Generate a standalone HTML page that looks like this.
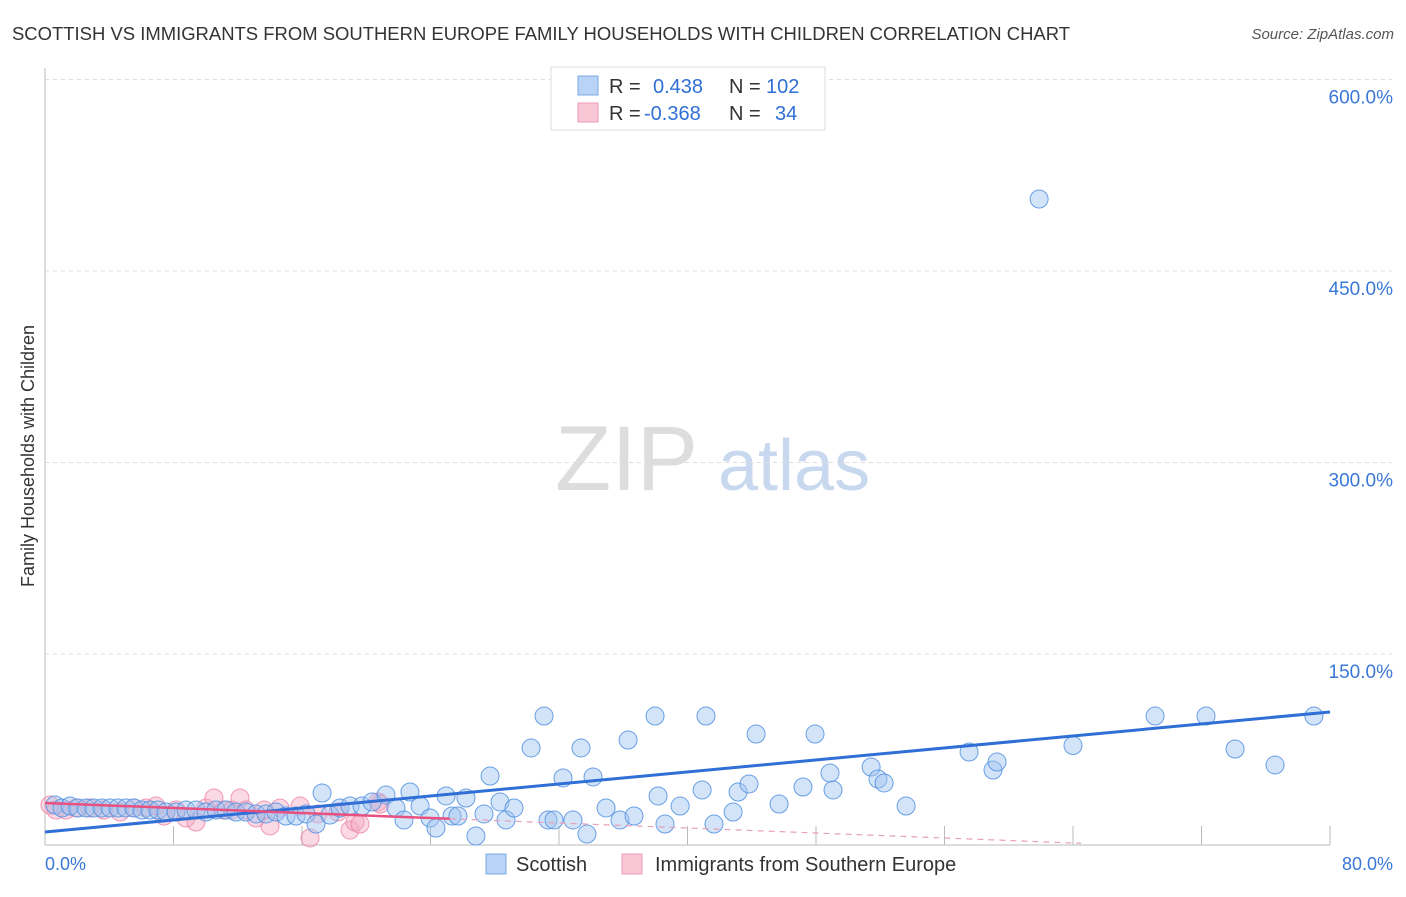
<!DOCTYPE html>
<html><head><meta charset="utf-8"><style>
body{margin:0;background:#fff;font-family:"Liberation Sans",sans-serif;}
svg text{font-family:"Liberation Sans",sans-serif;}
</style></head><body>
<svg id="chart" width="1406" height="892">
<text x="12" y="40" font-size="18" fill="#333" textLength="1058" lengthAdjust="spacingAndGlyphs">SCOTTISH VS IMMIGRANTS FROM SOUTHERN EUROPE FAMILY HOUSEHOLDS WITH CHILDREN CORRELATION CHART</text>
<text x="1394" y="39" font-size="15" fill="#555" text-anchor="end" font-style="italic">Source: ZipAtlas.com</text>
<text transform="translate(34,456) rotate(-90)" font-size="18" fill="#333" text-anchor="middle">Family Households with Children</text>
<g><text x="555" y="490" font-size="92" fill="#ddd" font-family="Liberation Serif,serif">ZIP</text><text x="718" y="490" font-size="72" fill="#c8d8ee">atlas</text></g>
<g id="grid"></g><g id="marks"></g>
<g>
<rect x="551" y="67" width="274" height="63" fill="#fff" stroke="#ddd"/>
<rect x="578" y="76" width="20" height="19" fill="#b8d3f5" stroke="#7aaae6"/>
<rect x="578" y="103" width="20" height="19" fill="#f9c6d5" stroke="#f09ab5"/>
<text x="609" y="93" font-size="20" fill="#333">R = </text><text x="653" y="93" font-size="20" fill="#2f6fd6">0.438</text>
<text x="729" y="93" font-size="20" fill="#333">N = </text><text x="766" y="93" font-size="20" fill="#2f6fd6">102</text>
<text x="609" y="120" font-size="20" fill="#333">R = </text><text x="644" y="120" font-size="20" fill="#2f6fd6">-0.368</text>
<text x="729" y="120" font-size="20" fill="#333">N = </text><text x="775" y="120" font-size="20" fill="#2f6fd6">34</text>
</g>
<g>
<rect x="486" y="854" width="20" height="20" fill="#b8d3f5" stroke="#7aaae6"/>
<text x="516" y="871" font-size="20" fill="#333">Scottish</text>
<rect x="622" y="854" width="20" height="20" fill="#f9c6d5" stroke="#f09ab5"/>
<text x="655" y="871" font-size="20" fill="#333">Immigrants from Southern Europe</text>
</g>
</svg>
<script>
const yTicks=[150,300,450,600];
const xTickLabels=["0.0%","80.0%"];
const blueX=[0.62,1.06,1.56,2.05,2.55,3.05,3.55,4.05,4.54,5.04,5.54,6.04,6.54,7.04,7.53,8.16,8.78,9.40,10.02,10.65,11.27,11.89,12.51,13.14,13.76,14.38,15.0,15.63,16.25,16.87,17.25,17.74,18.37,18.99,19.74,20.36,21.23,21.85,22.35,22.72,23.35,23.97,24.34,24.97,25.34,25.71,26.21,26.83,27.33,27.71,28.33,28.70,29.20,30.26,31.07,31.32,31.69,32.25,32.87,33.37,33.74,34.12,34.93,35.80,36.30,36.67,37.98,38.17,38.60,39.54,40.91,41.15,41.65,42.84,43.15,43.83,44.27,45.70,47.19,47.94,48.87,49.06,51.43,51.86,52.24,53.61,57.53,59.02,59.27,61.89,64.0,69.11,72.28,74.09,76.58,79.0];
const blueY=[31.7,29.4,30.9,29.4,29.4,29.4,29.4,29.4,29.4,29.4,29.4,27.8,27.8,27.8,26.2,26.2,27.8,27.8,26.2,27.8,27.8,26.2,26.2,24.7,24.7,26.2,23.1,23.1,24.7,16.8,41.1,23.9,29.4,30.9,30.9,34.1,39.6,29.4,20.0,41.9,30.9,21.5,13.7,38.8,23.1,23.1,37.2,7.4,24.7,54.4,34.1,20.0,29.4,76.4,101.4,20.0,20.0,52.9,20.0,76.4,9.0,53.7,29.4,20.0,82.6,23.1,101.4,38.8,16.8,30.9,43.5,101.4,16.8,26.2,41.9,48.2,87.3,32.5,45.8,87.3,56.8,43.5,61.5,52.1,49.0,30.9,73.2,59.1,65.4,506.4,78.3,101.4,101.4,75.6,63.1,101.4];
const pinkX=[0.31,0.68,1.31,1.93,2.80,3.67,4.67,5.54,6.29,6.91,7.41,8.16,8.78,9.40,10.02,10.52,11.14,11.64,12.14,12.51,13.14,13.64,14.01,14.63,15.88,16.50,17.0,18.24,18.99,19.30,19.61,20.73,20.86];
const pinkY=[31.7,27.8,27.8,29.4,29.4,27.8,26.2,29.4,29.4,30.9,23.1,27.8,21.5,18.4,29.4,37.2,27.8,27.8,37.2,27.8,21.5,27.8,15.3,29.4,30.9,5.9,24.7,26.2,12.1,18.4,16.8,34.1,32.5];
const blueTrend=[10.6,104.6];
const pinkTrend=[33.3,-0.49];
const NS="http://www.w3.org/2000/svg";
const X=v=>45+v/80*1285, Y=v=>845.5-v/150*191.5;
function mk(t,a,p){const e=document.createElementNS(NS,t);for(const k in a)e.setAttribute(k,a[k]);p.appendChild(e);return e;}
const grid=document.getElementById('grid'), marks=document.getElementById('marks');
const ax=mk('line',{x1:45,y1:68,x2:45,y2:845,stroke:'#bbb'},grid);


const bx=mk('line',{x1:45,y1:845,x2:1330,y2:845,stroke:'#bbb'},grid);


yTicks.forEach(t=>{
  const l=mk('line',{x1:45,x2:1392,y1:Y(t),y2:Y(t),stroke:'#ddd','stroke-dasharray':'4,4'},grid);
  
  
  const tx=mk('text',{x:1393,y:Y(t)+24,'font-size':19,fill:'#3a78d8','text-anchor':'end'},grid);
  tx.textContent=t.toFixed(1)+'%';
  
  
});
for(let i=1;i<=10;i++){
  const l=mk('line',{x1:X(i*8),x2:X(i*8),y1:826,y2:845,stroke:'#bbb'},grid);
  
  
}
[[45,'start'],[1393,'end']].forEach((p,i)=>{
  const tx=mk('text',{x:p[0],y:870,'font-size':18,fill:'#3a78d8','text-anchor':p[1]},grid);
  tx.textContent=xTickLabels[i];
  
  
});
pinkX.forEach((x,i)=>{
  const c=mk('circle',{cx:X(x),cy:Y(pinkY[i]),r:9,fill:'rgba(245,170,195,0.45)',stroke:'rgba(236,130,165,0.8)','stroke-width':1},marks);
  
  
});
blueX.forEach((x,i)=>{
  const c=mk('circle',{cx:X(x),cy:Y(blueY[i]),r:9,fill:'rgba(160,195,240,0.45)',stroke:'rgba(80,145,225,0.85)','stroke-width':1},marks);
  
  
});
const bl=mk('line',{x1:X(0),y1:Y(blueTrend[0]),x2:X(80),y2:Y(blueTrend[1]),stroke:'#2f6fd6','stroke-width':3},marks);


const pl=mk('line',{x1:X(0),y1:Y(pinkTrend[0]),x2:X(25.2),y2:Y(pinkTrend[0]+pinkTrend[1]*25.2),stroke:'#e8507f','stroke-width':2.5},marks);


const pd=mk('line',{x1:X(25.2),y1:Y(pinkTrend[0]+pinkTrend[1]*25.2),x2:X(64.5),y2:Y(pinkTrend[0]+pinkTrend[1]*64.5),stroke:'#e8a0b8','stroke-width':1.2,'stroke-dasharray':'6,5'},marks);


</script>
</body></html>
